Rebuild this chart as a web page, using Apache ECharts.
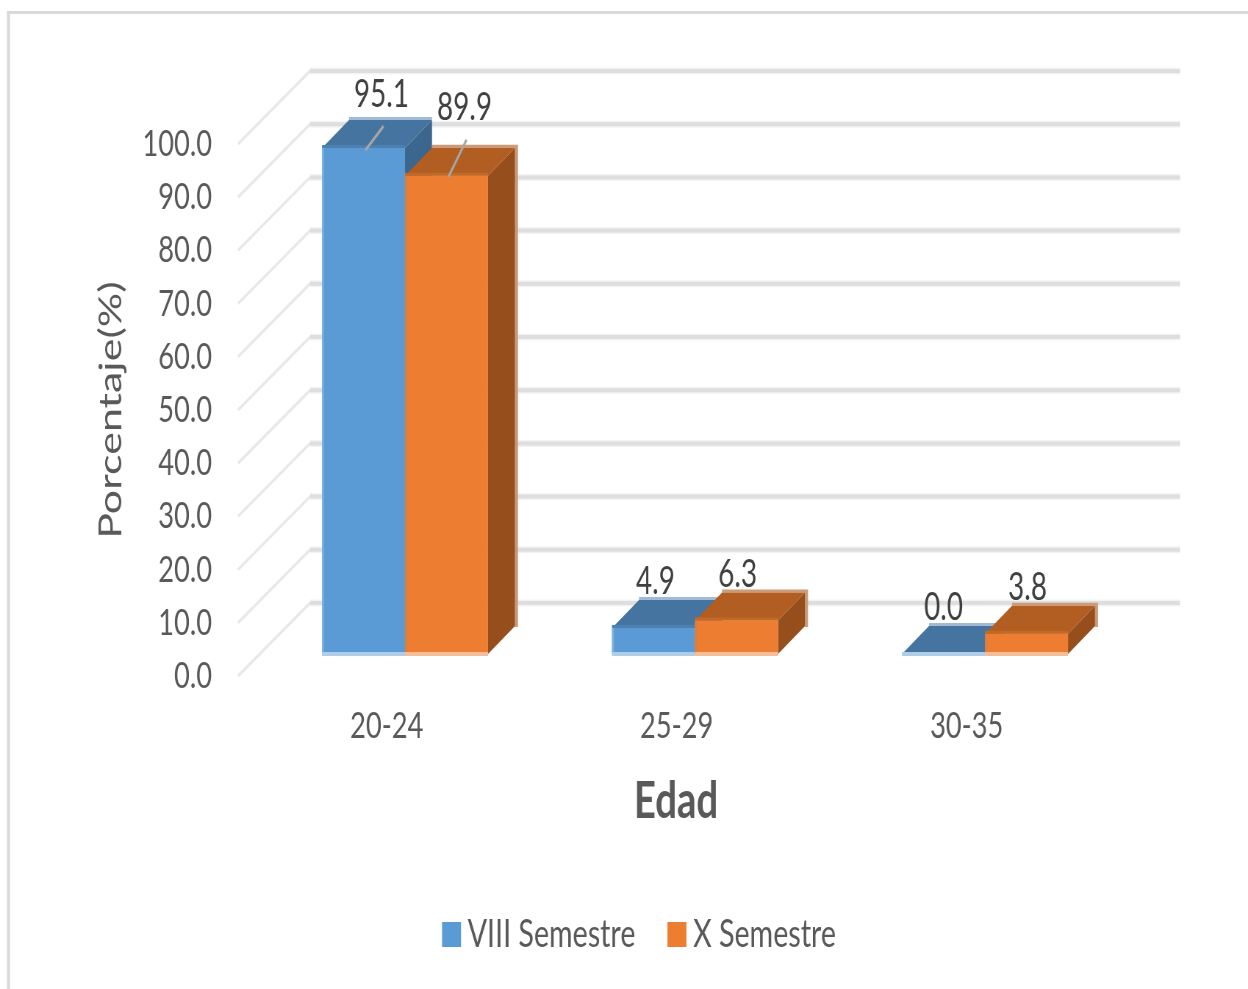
<!DOCTYPE html>
<html>
<head>
<meta charset="utf-8">
<style>
html,body{margin:0;padding:0;background:#fff;overflow:hidden;width:1248px;height:989px}
#chart{height:989px;transform-origin:0 0}
</style>
<script src="https://cdn.jsdelivr.net/npm/echarts@6/dist/echarts.min.js"></script>
</head>
<body>
<div id="chart"></div>
<script>
// Age groups and the share of students per semester, in percent
const ageGroups = ['20-24', '25-29', '30-35'];
const semesterVIII = [95.1, 4.9, 0.0];
const semesterX = [89.9, 6.3, 3.8];
const axisTicks = [0, 10, 20, 30, 40, 50, 60, 70, 80, 90, 100];

// The whole chart is condensed horizontally; X() converts page pixels to chart units
const squeeze = 0.735;
const X = px => px / squeeze;

// Pseudo-3D layout: wall depth, bar depth and bar placement on the floor
const wall = { dx: X(72), dy: -73 };
const barDepth = { dx: X(27), dy: -28 };
const floorShift = { dx: X(22), dy: -22 };
const barWidth = X(83);

const FONT = 'Lato,"Open Sans",sans-serif';

const palette = {
  blue: { front: '#5B9BD5', top: '#44749F', side: '#3B668E', edge: '#AECDE9', halo: '#A0BBD3', seam: '#4B80B0', strip: '#7CB0E0', rim: 0 },
  orange: { front: '#ED7D31', top: '#B25D22', side: '#964F1C', edge: '#F5BD98', halo: '#CB9A78', seam: '#C06A2A', strip: '#D9803E', rim: 3 }
};

// Label nudges per series and category, with leader lines on the tall bars
const labelNudge = [
  [{ x: 18, y: -53, lead: [[20, -22], [2, 2]] }, { x: 2, y: -46 }, { x: 0, y: -46 }],
  [{ x: 18, y: -68, lead: [[20, -36], [2, 1]] }, { x: 1, y: -46 }, { x: 1, y: -46 }]
];

function poly(points, fill) {
  return { type: 'polygon', shape: { points }, style: { fill } };
}

function barRenderer(seriesIndex, colors) {
  return function (params, api) {
    const cat = api.value(0);
    const val = api.value(1);
    const top = api.coord([cat, val]);
    const base = api.coord([cat, 0]);
    const centre = top[0] + floorShift.dx;
    const x0 = seriesIndex === 0 ? centre - barWidth : centre;
    const x1 = x0 + barWidth;
    const mid = (x0 + x1) / 2;
    const yTop = top[1] + floorShift.dy;
    const yBase = base[1] + floorShift.dy;
    const dx = barDepth.dx;
    const dy = barDepth.dy;
    const rim = X(colors.rim);
    const nudge = labelNudge[seriesIndex][cat];
    const children = [
      // soft rim behind the back edges of the box
      poly([[x0 + dx, yTop + dy - 3], [x1 + dx + rim, yTop + dy - 3], [x1 + dx + rim, yBase + dy + 1], [x1 + dx, yBase + dy + 1], [x1 + dx, yTop + dy], [x0 + dx, yTop + dy]], colors.halo),
      poly([[x1, yTop], [x1 + dx, yTop + dy], [x1 + dx, yBase + dy], [x1, yBase]], colors.side),
      poly([[x0, yTop], [x0 + dx, yTop + dy], [x1 + dx, yTop + dy], [x1, yTop]], colors.top)
    ];
    // blended seam where the top face meets the front, only on bars tall enough to show it
    if (val > 0) {
      children.push(poly([[x0, yTop - 3], [x1, yTop - 3], [x1, yTop], [x0, yTop]], colors.seam));
    }
    children.push(
      poly([[x0, yTop], [x1, yTop], [x1, yBase], [x0, yBase]], colors.front),
      poly([[x0, yTop], [x0 + X(2), yTop], [x0 + X(2), yBase], [x0, yBase]], colors.strip),
      poly([[x0, yBase - 2], [x1, yBase - 2], [x1, yBase + 2], [x0, yBase + 2]], colors.edge)
    );
    if (nudge.lead) {
      children.push({
        type: 'line',
        shape: {
          x1: mid + X(nudge.lead[0][0]), y1: yTop + nudge.lead[0][1],
          x2: mid + X(nudge.lead[1][0]), y2: yTop + nudge.lead[1][1]
        },
        style: { stroke: '#A6A6A6', lineWidth: 3 }
      });
    }
    children.push({
      type: 'text',
      x: mid + X(nudge.x),
      y: yTop + nudge.y,
      style: {
        text: val.toFixed(1),
        font: '38px ' + FONT,
        fill: '#404040',
        align: 'center',
        verticalAlign: 'middle'
      }
    });
    return { type: 'group', children };
  };
}

// Back wall and side wall lines, one polyline per axis tick
function wallRenderer(params, api) {
  const value = api.value(0);
  const left = api.coord([0, value]);
  const band = api.size([1, 0])[0];
  const x0 = left[0] - band / 2;
  const y0 = left[1];
  const xBack = x0 + wall.dx;
  const yBack = y0 + wall.dy;
  const xEnd = xBack + band * ageGroups.length;
  return {
    type: 'group',
    children: [
      {
        type: 'line',
        shape: { x1: x0, y1: y0, x2: xBack, y2: yBack },
        style: { stroke: '#E8E8E8', lineWidth: 3 }
      },
      {
        type: 'line',
        shape: { x1: xBack, y1: yBack, x2: xEnd, y2: yBack },
        style: { stroke: '#F3F3F3', lineWidth: 7 }
      },
      {
        type: 'line',
        shape: { x1: xBack, y1: yBack, x2: xEnd, y2: yBack },
        style: { stroke: '#DEDEDE', lineWidth: 4 }
      }
    ]
  };
}

const holder = document.getElementById('chart');
holder.style.width = X(1248) + 'px';
holder.style.transform = 'scaleX(' + squeeze + ')';

const chart = echarts.init(holder);
chart.setOption({
  animation: false,
  backgroundColor: '#fff',
  graphic: [
    { type: 'rect', x: X(7), y: 11, shape: { width: X(1241), height: 3 }, style: { fill: '#D9D9D9' } },
    { type: 'rect', x: X(7), y: 11, shape: { width: X(3), height: 978 }, style: { fill: '#D9D9D9' } },
    {
      type: 'text', x: X(676), y: 801,
      style: { text: 'Edad', font: 'bold 52px ' + FONT, fill: '#595959', align: 'center', verticalAlign: 'middle' }
    }
  ],
  grid: { left: X(238), top: 144, width: X(870), height: 532, containLabel: false },
  xAxis: {
    type: 'category',
    data: ageGroups,
    axisLine: { show: false },
    axisTick: { show: false },
    axisLabel: { margin: 32, fontFamily: FONT, fontSize: 37, color: '#595959', padding: [0, 0, 0, 10] }
  },
  yAxis: {
    type: 'value',
    min: 0,
    max: 100,
    interval: 10,
    name: 'Porcentaje(%)',
    nameLocation: 'middle',
    nameGap: X(111),
    nameRotate: 90,
    nameTextStyle: { fontFamily: FONT, fontSize: 43, color: '#595959' },
    axisLine: { show: false },
    axisTick: { show: false },
    splitLine: { show: false },
    axisLabel: {
      margin: X(26),
      fontFamily: FONT,
      fontSize: 37,
      color: '#595959',
      formatter: v => v.toFixed(1)
    }
  },
  legend: {
    data: ['VIII Semestre', 'X Semestre'],
    left: X(442),
    top: 915,
    padding: 0,
    icon: 'rect',
    itemWidth: X(19),
    itemHeight: 25,
    itemGap: X(32),
    textStyle: { fontFamily: FONT, fontSize: 39, color: '#595959', padding: [0, 0, 0, 4] }
  },
  series: [
    {
      type: 'custom',
      name: 'walls',
      silent: true,
      z: 1,
      renderItem: wallRenderer,
      data: axisTicks.map(t => [t]),
      encode: { y: 0 }
    },
    {
      type: 'custom',
      name: 'VIII Semestre',
      z: 2,
      itemStyle: { color: palette.blue.front },
      renderItem: barRenderer(0, palette.blue),
      data: semesterVIII.map((v, i) => [i, v]),
      encode: { x: 0, y: 1 }
    },
    {
      type: 'custom',
      name: 'X Semestre',
      z: 3,
      itemStyle: { color: palette.orange.front },
      renderItem: barRenderer(1, palette.orange),
      data: semesterX.map((v, i) => [i, v]),
      encode: { x: 0, y: 1 }
    }
  ]
});
</script>
</body>
</html>
